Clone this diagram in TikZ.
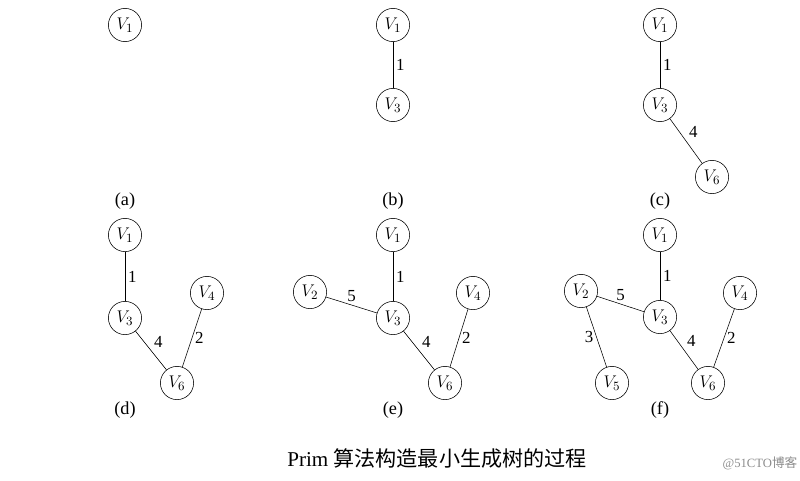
\documentclass[tikz,border=0pt]{standalone}
\usepackage{fontspec}
\setmainfont{Liberation Serif}
\newfontfamily\cjk{Noto Sans CJK SC}
\usetikzlibrary{calc}

\begin{document}
\begin{tikzpicture}[x=0.025cm,y=-0.025cm,
	sommet/.style={draw,thin,circle,minimum size=0.83cm,inner sep=0pt,font=\fontsize{13}{13}\selectfont},
	arete/.style={thin},
	poids/.style={font=\fontsize{12}{12}\selectfont,inner sep=2pt},
	etiq/.style={font=\fontsize{13}{13}\selectfont}]
	\useasboundingbox (0,0) rectangle (800,480);
	% (a)
	\node[sommet] (a1) at (125,25) {$V_1$};
	\node[etiq] (la) at (125,201) {(a)};
	% (b)
	\node[sommet] (b1) at (393,25) {$V_1$};
	\node[sommet] (b3) at (393,105) {$V_3$};
	\draw[arete] (b1) -- (b3) node[midway,right,poids] {1};
	\node[etiq] (lb) at (393,201) {(b)};
	% (c)
	\node[sommet] (c1) at (660,25) {$V_1$};
	\node[sommet] (c3) at (660,105) {$V_3$};
	\node[sommet] (c6) at (712,177) {$V_6$};
	\draw[arete] (c1) -- (c3) node[midway,right,poids] {1};
	\draw[arete] (c3) -- (c6) node[midway,above right,poids] {4};
	\node[etiq] (lc) at (660,201) {(c)};
	% (d)
	\node[sommet] (d1) at (125,235) {$V_1$};
	\node[sommet] (d3) at (125,318) {$V_3$};
	\node[sommet] (d4) at (207,293) {$V_4$};
	\node[sommet] (d6) at (177,383) {$V_6$};
	\draw[arete] (d1) -- (d3) node[midway,right,poids] {1};
	\draw[arete] (d3) -- (d6) node[midway,above right,poids] {4};
	\draw[arete] (d4) -- (d6) node[midway,right,poids] {2};
	\node[etiq] (ld) at (125,410) {(d)};
	% (e)
	\node[sommet] (e1) at (393,235) {$V_1$};
	\node[sommet] (e2) at (310,292) {$V_2$};
	\node[sommet] (e3) at (393,318) {$V_3$};
	\node[sommet] (e4) at (473,293) {$V_4$};
	\node[sommet] (e6) at (445,383) {$V_6$};
	\draw[arete] (e1) -- (e3) node[midway,right,poids] {1};
	\draw[arete] (e2) -- (e3) node[midway,above,poids] {5};
	\draw[arete] (e3) -- (e6) node[midway,above right,poids] {4};
	\draw[arete] (e4) -- (e6) node[midway,right,poids] {2};
	\node[etiq] (le) at (393,410) {(e)};
	% (f)
	\node[sommet] (f1) at (660,235) {$V_1$};
	\node[sommet] (f2) at (581,291) {$V_2$};
	\node[sommet] (f3) at (660,317) {$V_3$};
	\node[sommet] (f4) at (740,293) {$V_4$};
	\node[sommet] (f5) at (612,383) {$V_5$};
	\node[sommet] (f6) at (708,383) {$V_6$};
	\draw[arete] (f1) -- (f3) node[midway,right,poids] {1};
	\draw[arete] (f2) -- (f3) node[midway,above,poids] {5};
	\draw[arete] (f2) -- (f5) node[midway,left,poids] {3};
	\draw[arete] (f3) -- (f6) node[midway,above right,poids] {4};
	\draw[arete] (f4) -- (f6) node[midway,right,poids] {2};
	\node[etiq] (lf) at (660,410) {(f)};
	% Légende
	\node[font=\fontsize{15}{15}\selectfont] (titre) at (437,458) {Prim {\cjk 算法构造最小生成树的过程}};
	\node[font=\fontsize{9}{9}\selectfont,text=black!45] (marque) at (760,463) {@51CTO{\cjk 博客}};
\end{tikzpicture}
\end{document}
